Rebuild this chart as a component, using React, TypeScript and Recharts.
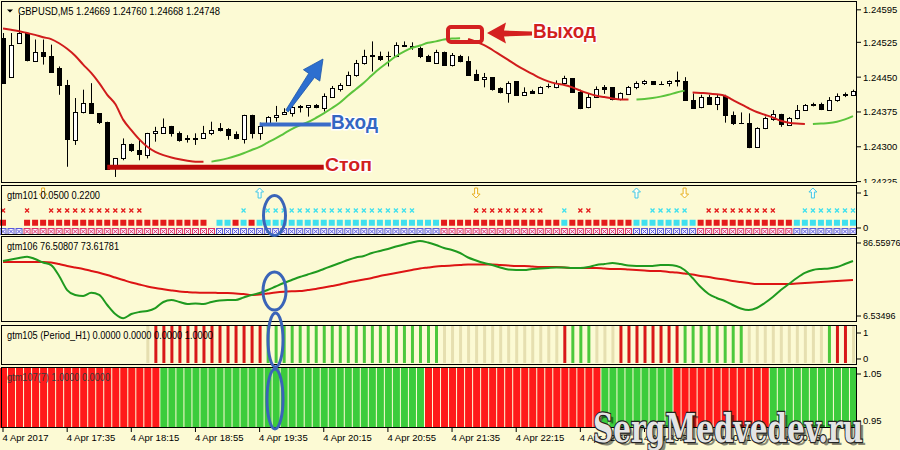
import React from "react";
import { ComposedChart, Bar, Line, XAxis, YAxis, ReferenceLine, Cell } from "recharts";

const N = 107;
const BG = "#fcfad4";
const FONT = "'Liberation Sans', Arial, sans-serif";

// GBPUSD M5, bars from 4 Apr 2017 16:55
const opens = [
  1.24534, 1.24451, 1.24523, 1.24545, 1.24484, 1.24505, 1.24496, 1.24469, 1.24433, 1.24315,
  1.24374, 1.24394, 1.24372, 1.24353, 1.24261, 1.24275, 1.24307, 1.24293, 1.24282, 1.24329,
  1.24329, 1.24345, 1.24329, 1.24318, 1.24316, 1.2432, 1.24329, 1.2434, 1.24338, 1.24328,
  1.24316, 1.24369, 1.24329, 1.24352, 1.24364, 1.24371, 1.24372, 1.24385, 1.24385, 1.2439,
  1.24383, 1.24408, 1.24424, 1.24433, 1.24455, 1.2448, 1.24498, 1.24496, 1.24496, 1.24495,
  1.2452, 1.24518, 1.24513, 1.24495, 1.2448, 1.24505, 1.24477, 1.24496, 1.24485, 1.24457,
  1.24446, 1.2445, 1.24426, 1.24415, 1.24441, 1.24412, 1.24421, 1.24415, 1.2443, 1.24428,
  1.24438, 1.24448, 1.24419, 1.24385, 1.24407, 1.24428, 1.24428, 1.24402, 1.24414, 1.24428,
  1.24438, 1.24441, 1.24435, 1.24437, 1.24441, 1.24441, 1.24401, 1.24385, 1.24408, 1.24392,
  1.2441, 1.24369, 1.24352, 1.24351, 1.243, 1.2434, 1.24359, 1.24371, 1.24347, 1.24361,
  1.24379, 1.2439, 1.24392, 1.24379, 1.244, 1.24412, 1.24412,
];
const highs = [
  1.24545, 1.24545, 1.24585, 1.24545, 1.24531, 1.24531, 1.2452, 1.24473, 1.24444, 1.24405,
  1.24423, 1.24437, 1.24372, 1.24354, 1.24275, 1.24318, 1.24307, 1.24315, 1.2433, 1.24343,
  1.24361, 1.24345, 1.24333, 1.24325, 1.24329, 1.24345, 1.24354, 1.24351, 1.2434, 1.24333,
  1.24369, 1.24369, 1.24352, 1.24366, 1.24388, 1.24383, 1.24388, 1.2439, 1.2439, 1.24392,
  1.24415, 1.24431, 1.24437, 1.24462, 1.24487, 1.24509, 1.24527, 1.24505, 1.24505, 1.24525,
  1.24527, 1.24525, 1.24516, 1.24498, 1.24509, 1.24505, 1.24502, 1.24498, 1.24495, 1.24466,
  1.24459, 1.2445, 1.24428, 1.24441, 1.24441, 1.24428, 1.24423, 1.2443, 1.24436, 1.24443,
  1.24453, 1.24448, 1.24423, 1.24415, 1.2443, 1.24433, 1.24428, 1.24417, 1.24431, 1.24441,
  1.24444, 1.24441, 1.24441, 1.24443, 1.24462, 1.2445, 1.24415, 1.24412, 1.24412, 1.24412,
  1.24412, 1.24376, 1.24374, 1.24372, 1.24342, 1.24365, 1.24379, 1.24371, 1.24364, 1.2439,
  1.24392, 1.24395, 1.24395, 1.24407, 1.24415, 1.24417, 1.24423,
];
const lows = [
  1.24437, 1.24451, 1.24523, 1.24484, 1.24484, 1.24477, 1.24462, 1.24412, 1.24257, 1.24304,
  1.24372, 1.24372, 1.24349, 1.24253, 1.24235, 1.24271, 1.24289, 1.24271, 1.24275, 1.24311,
  1.24329, 1.24322, 1.24311, 1.24309, 1.24304, 1.24318, 1.24325, 1.24333, 1.24315, 1.24316,
  1.24307, 1.24318, 1.24315, 1.24349, 1.24354, 1.24369, 1.24365, 1.24374, 1.24365, 1.24383,
  1.24376, 1.24407, 1.24419, 1.24431, 1.24451, 1.24477, 1.24462, 1.24485, 1.24473, 1.24493,
  1.24516, 1.24509, 1.24491, 1.24484, 1.2448, 1.24474, 1.24473, 1.24482, 1.24455, 1.24443,
  1.24428, 1.24421, 1.24415, 1.24395, 1.2441, 1.2441, 1.24414, 1.24414, 1.24426, 1.24426,
  1.24437, 1.24417, 1.24381, 1.24383, 1.24405, 1.24414, 1.244, 1.244, 1.24412, 1.24424,
  1.24433, 1.24433, 1.24433, 1.2443, 1.2443, 1.244, 1.24383, 1.24383, 1.2439, 1.24379,
  1.24352, 1.24347, 1.24349, 1.24297, 1.243, 1.24338, 1.24356, 1.24343, 1.24345, 1.24359,
  1.24378, 1.24387, 1.24379, 1.24378, 1.24397, 1.24407, 1.2441,
];
const closes = [
  1.24437, 1.2452, 1.24545, 1.24487, 1.24505, 1.24496, 1.24462, 1.24433, 1.24316, 1.24374,
  1.24394, 1.24372, 1.24354, 1.24253, 1.24275, 1.24307, 1.24293, 1.24284, 1.24329, 1.24333,
  1.24343, 1.2433, 1.24315, 1.24316, 1.2432, 1.24329, 1.24336, 1.24336, 1.24325, 1.24318,
  1.24369, 1.2433, 1.24345, 1.24364, 1.24369, 1.24374, 1.24385, 1.24387, 1.2439, 1.24385,
  1.2441, 1.24426, 1.24433, 1.24455, 1.2448, 1.24496, 1.24495, 1.24489, 1.24495, 1.2452,
  1.24518, 1.24516, 1.24495, 1.24484, 1.24505, 1.24477, 1.24498, 1.24484, 1.24455, 1.24444,
  1.24451, 1.24424, 1.24417, 1.24438, 1.24412, 1.24419, 1.24415, 1.24428, 1.24431, 1.24438,
  1.24448, 1.24419, 1.24383, 1.24408, 1.24424, 1.24424, 1.24402, 1.24415, 1.24428, 1.24438,
  1.24441, 1.24436, 1.24436, 1.24441, 1.24443, 1.244, 1.24383, 1.24408, 1.24392, 1.24407,
  1.24369, 1.24352, 1.24351, 1.243, 1.2434, 1.24361, 1.24371, 1.24349, 1.24361, 1.24379,
  1.2439, 1.24392, 1.24381, 1.24401, 1.2441, 1.24414, 1.24421,
];

// coloured moving average (red = falling, green = rising)
const maValues = [
  1.24555, 1.24552, 1.24549, 1.24545, 1.24541, 1.24536, 1.24532, 1.24523, 1.24511, 1.24496,
  1.24477, 1.24459, 1.24437, 1.24412, 1.24392, 1.24358, 1.24336, 1.24316, 1.243, 1.24289,
  1.24282, 1.24277, 1.24273, 1.2427, 1.24268, 1.24268, 1.24268, 1.24271, 1.24275, 1.2428,
  1.24286, 1.24293, 1.243, 1.24309, 1.24318, 1.24328, 1.24338, 1.24346, 1.24353, 1.24362,
  1.24372, 1.24383, 1.24395, 1.2441, 1.24424, 1.24438, 1.24454, 1.24469, 1.24482, 1.24495,
  1.24505, 1.24513, 1.24518, 1.24524, 1.24527, 1.24531, 1.24533, 1.24534, 1.24532, 1.24526,
  1.24519, 1.24509, 1.24498, 1.24487, 1.24476, 1.24466, 1.24457, 1.24448, 1.24441, 1.24436,
  1.24433, 1.24428, 1.24421, 1.24415, 1.2441, 1.24407, 1.24404, 1.24402, 1.24402, 1.24402,
  1.24403, 1.24405, 1.24408, 1.24412, 1.24417, 1.24421, 1.24417, 1.24416, 1.24415, 1.24413,
  1.2441, 1.24401, 1.24392, 1.24383, 1.24375, 1.24369, 1.24363, 1.24356, 1.24352, 1.2435,
  1.24349, 1.24349, 1.2435, 1.24351, 1.24354, 1.24359, 1.24366,
];
type Run = [number, number, string];
const maTrendRuns: Run[] = [[0, 25, "d"], [26, 57, "u"], [58, 78, "d"], [79, 85, "u"], [86, 100, "d"], [101, 106, "u"]];

const priceTicks = [1.24225, 1.243, 1.24375, 1.2445, 1.24525, 1.24595];
const timeTicks = [0, 8, 16, 24, 32, 40, 48, 56, 64, 72, 80, 88, 96];
const timeLabels = [
  "4 Apr 2017", "4 Apr 17:35", "4 Apr 18:15", "4 Apr 18:55", "4 Apr 19:35", "4 Apr 20:15", "4 Apr 20:55",
  "4 Apr 21:35", "4 Apr 22:15", "4 Apr 22:55", "4 Apr 23:35", "5 Apr 00:15", "5 Apr 00:55",
];
const stopPrice = 1.24256;
const entryPrice = 1.24348;

// gtm101 rows: r = red, c = cyan, b = blue
const crossRuns: Run[] = [[0, 0, "r"], [3, 3, "r"], [6, 17, "r"], [30, 30, "c"], [33, 51, "c"], [59, 67, "r"], [70, 70, "c"], [72, 73, "r"], [81, 85, "c"], [88, 96, "r"], [100, 106, "c"]];
const squareRuns: Run[] = [[0, 0, "r"], [3, 25, "r"], [27, 28, "c"], [29, 29, "r"], [30, 30, "c"], [31, 31, "r"], [32, 54, "c"], [55, 69, "r"], [70, 70, "c"], [71, 78, "r"], [79, 86, "c"], [87, 98, "r"], [99, 106, "c"]];
const boxRuns: Run[] = [[0, 2, "b"], [3, 26, "r"], [27, 54, "b"], [55, 78, "r"], [79, 86, "b"], [87, 98, "r"], [99, 106, "b"]];
const upArrows = [32, 79, 101];
const downArrows = [5, 59, 85];

// gtm106 two lines
const gtm106Green = [
  66.8, 68.5, 70.1, 71.6, 69.0, 65.2, 62.4, 50.4, 35.0, 29.6,
  28.5, 32.1, 29.6, 18.6, 8.7, 4.0, 8.7, 10.9, 12.0, 15.3,
  21.9, 24.1, 21.9, 19.7, 20.2, 19.7, 21.9, 23.5, 24.1, 24.1,
  26.8, 29.6, 31.7, 35.0, 38.9, 42.7, 46.0, 49.3, 52.0, 54.8,
  58.1, 61.4, 64.6, 67.9, 70.7, 72.3, 75.6, 77.8, 80.0, 82.7,
  84.9, 87.1, 88.8, 87.1, 84.4, 81.1, 78.9, 75.6, 70.7, 67.4,
  64.6, 62.4, 59.7, 57.5, 57.0, 57.0, 58.1, 58.6, 59.2, 59.7,
  59.7, 59.2, 59.2, 60.2, 62.4, 63.5, 64.6, 63.5, 61.9, 61.4,
  61.4, 61.4, 62.4, 62.4, 61.4, 57.0, 48.2, 38.3, 30.7, 26.3,
  23.0, 18.6, 14.8, 13.1, 15.3, 20.8, 27.4, 35.0, 41.6, 48.2,
  53.7, 57.0, 58.1, 58.6, 60.2, 63.5, 66.8,
];
const gtm106Red = [
  65.7, 65.7, 65.7, 65.7, 65.7, 65.7, 65.2, 63.5, 61.4, 59.7,
  58.1, 55.9, 54.0, 51.5, 48.7, 46.0, 43.3, 41.1, 38.9, 37.2,
  35.8, 34.5, 33.4, 32.8, 32.3, 32.1, 32.1, 31.7, 31.7, 31.2,
  30.7, 29.6, 30.1, 31.2, 32.3, 33.1, 33.6, 33.9, 35.0, 36.1,
  37.8, 39.4, 41.1, 43.3, 44.9, 46.6, 48.2, 50.4, 52.0, 53.7,
  55.3, 57.0, 58.6, 59.7, 60.8, 61.4, 61.9, 62.4, 63.0, 63.0,
  63.0, 63.0, 62.4, 61.9, 61.4, 61.4, 60.8, 60.2, 60.2, 60.2,
  59.7, 59.2, 59.2, 59.2, 59.2, 58.6, 58.1, 58.1, 57.5, 57.0,
  56.4, 55.9, 55.9, 54.8, 54.2, 53.1, 52.0, 50.4, 49.3, 47.6,
  46.6, 44.9, 43.8, 42.7, 41.6, 41.6, 41.6, 41.6, 41.6, 42.2,
  42.7, 43.3, 43.8, 44.4, 44.9, 45.5, 46.0,
];

// gtm105 / gtm107 signal bars: r = red, g = green, p = pale
const gtm105Runs: Run[] = [[18, 18, "p"], [19, 32, "r"], [33, 54, "g"], [55, 69, "p"], [70, 70, "r"], [71, 73, "g"], [74, 76, "p"], [77, 84, "r"], [85, 92, "g"], [93, 102, "p"], [103, 103, "g"], [104, 105, "r"], [106, 106, "p"]];
const gtm107Runs: Run[] = [[0, 19, "r"], [20, 52, "g"], [53, 74, "r"], [75, 83, "g"], [84, 95, "r"], [96, 106, "g"]];

const expand = (runs: Run[]) => {
  const out: string[] = new Array(N).fill("");
  runs.forEach(([a, b, c]) => {
    for (let k = a; k <= b; k++) out[k] = c;
  });
  return out;
};
const maTrend = expand(maTrendRuns);
const crosses = expand(crossRuns);
const squares = expand(squareRuns);
const boxes = expand(boxRuns);
const g105 = expand(gtm105Runs);
const g107 = expand(gtm107Runs);

const data = opens.map((o, i) => ({
  i,
  o,
  h: highs[i],
  l: lows[i],
  c: closes[i],
  maDn: maTrend[i] === "d" ? maValues[i] : null,
  maUp: maTrend[i] === "u" ? maValues[i] : null,
  g106g: gtm106Green[i],
  g106r: gtm106Red[i],
  crossC: crosses[i],
  crossY: crosses[i] ? 0.5 : null,
  sqC: squares[i],
  sqY: squares[i] ? 0.15 : null,
  boxC: boxes[i],
  boxY: boxes[i] ? -0.1 : null,
  arrow: upArrows.includes(i) ? "u" : downArrows.includes(i) ? "d" : "",
  arrowY: upArrows.includes(i) || downArrows.includes(i) ? 1 : null,
  g105C: g105[i],
  g105: g105[i] ? 1 : null,
  g107C: g107[i],
  g107: g107[i] ? 1 : null,
}));

const C101: Record<string, string> = { r: "#e41b1b", c: "#3fe0ee" };
const CBOX: Record<string, string> = { b: "#5a5adc", r: "#e0306a" };
const C105: Record<string, string> = { r: "#d81818", g: "#4cc83c", p: "#e6dfb0" };
const C107: Record<string, string> = { r: "#ff1a1a", g: "#3ccc3c" };

const Candle = (p: any) => {
  const { x, y, width, height, payload } = p;
  if (x == null || y == null) return <g />;
  const top = Math.min(y, y + height);
  const len = Math.abs(height);
  const { o, h, l, c } = payload;
  const ppu = h === l ? 0 : len / (h - l);
  const yOf = (v: number) => top + (h - v) * ppu;
  const n = Math.round(x + width / 2 - 0.5);
  const cx = n + 0.5;
  const bTop = Math.round(yOf(Math.max(o, c))) + 0.5;
  const bBot = Math.round(yOf(Math.min(o, c))) + 0.5;
  return (
    <g>
      <line x1={cx} x2={cx} y1={top} y2={top + len} stroke="#000" />
      {bBot - bTop < 1 ? (
        <line x1={cx - 2.5} x2={cx + 2.5} y1={bTop} y2={bTop} stroke="#000" />
      ) : (
        <rect x={cx - 2} y={bTop} width={4} height={bBot - bTop} fill={c >= o ? "#fff" : "#000"} stroke="#000" />
      )}
    </g>
  );
};

const crossDot = (p: any) => {
  const { cx, cy, payload, index } = p;
  if (cy == null || payload.crossY == null) return <g key={index} />;
  return (
    <g key={index} stroke={C101[payload.crossC]} strokeWidth={1.3}>
      <line x1={cx - 2} y1={cy - 2} x2={cx + 2} y2={cy + 2} />
      <line x1={cx - 2} y1={cy + 2} x2={cx + 2} y2={cy - 2} />
    </g>
  );
};
const squareDot = (p: any) => {
  const { cx, cy, payload, index } = p;
  if (cy == null || payload.sqY == null) return <g key={index} />;
  return <rect key={index} x={cx - 3} y={cy - 3} width={6} height={6} fill={C101[payload.sqC]} />;
};
const boxDot = (p: any) => {
  const { cx, cy, payload, index } = p;
  if (cy == null || payload.boxY == null) return <g key={index} />;
  const col = CBOX[payload.boxC];
  return (
    <g key={index} stroke={col} strokeWidth={1}>
      <rect x={cx - 3} y={cy - 3} width={6} height={6} fill="#f6f2ff" />
      <line x1={cx - 2} y1={cy - 2} x2={cx + 2} y2={cy + 2} />
      <line x1={cx - 2} y1={cy + 2} x2={cx + 2} y2={cy - 2} />
    </g>
  );
};
const arrowDot = (p: any) => {
  const { cx, cy, payload, index } = p;
  if (cy == null || payload.arrowY == null) return <g key={index} />;
  const s = payload.arrow === "u" ? 1 : -1;
  const pts = [[0, -5], [4, -1], [1.5, -1], [1.5, 5], [-1.5, 5], [-1.5, -1], [-4, -1]]
    .map(([dx, dy]) => `${cx + dx},${cy + dy * s}`)
    .join(" ");
  return <polygon key={index} points={pts} fill="#fffef0" stroke={s > 0 ? "#40c8e8" : "#e8b020"} strokeWidth={1} />;
};

const TimeTick = (p: any) => {
  const idx = timeTicks.indexOf(p.payload.value);
  return (
    <text x={p.x - 0.5} y={p.y} dy="0.71em" textAnchor="start" fontSize={9.5} fontFamily={FONT} fill="#000">
      {timeLabels[idx]}
    </text>
  );
};

const axisTick = { fontSize: 9.5, fill: "#000", fontFamily: FONT };
const smallTick = { fontSize: 9, fill: "#000", fontFamily: FONT };
const margin = { top: 0, right: 0, bottom: 0, left: -1 };

const Panel = ({ top, height, children }: { top: number; height: number; children: React.ReactNode }) => (
  <div style={{ position: "absolute", left: 0, top }}>
    <ComposedChart width={900} height={height} data={data} margin={margin} barGap={0} barCategoryGap={0}>
      {children}
    </ComposedChart>
  </div>
);

const outlined = { paintOrder: "stroke" as const, stroke: "#fff", strokeWidth: 3, strokeLinejoin: "round" as const };

export default function App() {
  return (
    <div style={{ position: "absolute", left: 0, top: 0, width: 900, height: 450, background: BG, overflow: "hidden" }}>
      {/* main price panel */}
      <Panel top={1} height={182}>
        <XAxis dataKey="i" hide />
        <YAxis yAxisId="p" orientation="right" width={43} domain={[1.24222, 1.24614]} allowDataOverflow ticks={priceTicks} interval={0}
          tickFormatter={(v: number) => v.toFixed(5)} tick={axisTick} tickSize={4} tickLine={{ stroke: "#000" }} axisLine={false} />
        <Bar yAxisId="p" dataKey={(d: any) => [d.l, d.h]} barSize={7} shape={(p: any) => <Candle {...p} />} isAnimationActive={false} />
        <Line yAxisId="p" dataKey="maDn" type="monotone" stroke="#d01c1c" strokeWidth={2} dot={false} activeDot={false} connectNulls={false} isAnimationActive={false} />
        <Line yAxisId="p" dataKey="maUp" type="monotone" stroke="#5cc43c" strokeWidth={2} dot={false} activeDot={false} connectNulls={false} isAnimationActive={false} />
        <ReferenceLine yAxisId="p" segment={[{ x: 13, y: stopPrice }, { x: 40, y: stopPrice }]} stroke="#bb0a0a" strokeWidth={5} />
        <ReferenceLine yAxisId="p" segment={[{ x: 32, y: entryPrice }, { x: 41, y: entryPrice }]} stroke="#3a6cc8" strokeWidth={4} />
      </Panel>

      {/* gtm101 */}
      <Panel top={185} height={50}>
        <XAxis dataKey="i" hide />
        <YAxis yAxisId="s" orientation="right" width={43} domain={[-0.2, 1.2286]} allowDataOverflow ticks={[0, 1]} interval={0}
          tick={axisTick} tickSize={4} tickLine={{ stroke: "#000" }} axisLine={false} />
        <Bar yAxisId="s" dataKey="none" isAnimationActive={false} />
        <Line yAxisId="s" dataKey="boxY" stroke="none" dot={boxDot} activeDot={false} isAnimationActive={false} />
        <Line yAxisId="s" dataKey="sqY" stroke="none" dot={squareDot} activeDot={false} isAnimationActive={false} />
        <Line yAxisId="s" dataKey="crossY" stroke="none" dot={crossDot} activeDot={false} isAnimationActive={false} />
        <Line yAxisId="s" dataKey="arrowY" stroke="none" dot={arrowDot} activeDot={false} isAnimationActive={false} />
      </Panel>

      {/* gtm106 */}
      <Panel top={237} height={85}>
        <XAxis dataKey="i" hide />
        <YAxis yAxisId="s" orientation="right" width={43} domain={[-0.04, 93.14]} allowDataOverflow ticks={[6.53496, 86.55976]} interval={0}
          tickFormatter={(v: number) => v.toFixed(5)} tick={smallTick} tickSize={4} tickLine={{ stroke: "#000" }} axisLine={false} />
        <Bar yAxisId="s" dataKey="none" isAnimationActive={false} />
        <Line yAxisId="s" dataKey="g106r" type="monotone" stroke="#dd1414" strokeWidth={2} dot={false} activeDot={false} isAnimationActive={false} />
        <Line yAxisId="s" dataKey="g106g" type="monotone" stroke="#1f9a1f" strokeWidth={2} dot={false} activeDot={false} isAnimationActive={false} />
      </Panel>

      {/* gtm105 */}
      <Panel top={325} height={40}>
        <XAxis dataKey="i" hide />
        <YAxis yAxisId="s" orientation="right" width={43} domain={[-0.2308, 1.3077]} allowDataOverflow ticks={[0, 1]} interval={0}
          tick={axisTick} tickSize={4} tickLine={{ stroke: "#000" }} axisLine={false} />
        <YAxis yAxisId="b" hide domain={[-0.054, 1.027]} allowDataOverflow />
        <Bar yAxisId="b" dataKey="g105" barSize={3} isAnimationActive={false}>
          {data.map((d) => <Cell key={d.i} fill={C105[d.g105C] || "none"} />)}
        </Bar>
      </Panel>

      {/* gtm107 + time axis */}
      <div style={{ position: "absolute", left: 0, top: 368 }}>
        <ComposedChart width={900} height={82} data={data} margin={margin} barGap={0} barCategoryGap={0}>
          <XAxis dataKey="i" height={22} ticks={timeTicks} interval={0} tick={<TimeTick />} tickSize={4} tickLine={{ stroke: "#000" }} axisLine={false} />
          <YAxis yAxisId="s" orientation="right" width={43} domain={[0.9351, 1.0628]} allowDataOverflow ticks={[0.95, 1.05]} interval={0}
            tickFormatter={(v: number) => v.toFixed(2)} tick={axisTick} tickSize={4} tickLine={{ stroke: "#000" }} axisLine={false} />
          <YAxis yAxisId="b" hide domain={[0, 1]} allowDataOverflow />
          <Bar yAxisId="b" dataKey="g107" barSize={7} isAnimationActive={false}>
            {data.map((d) => <Cell key={d.i} fill={C107[d.g107C] || "none"} />)}
          </Bar>
        </ComposedChart>
      </div>

      {/* frames, titles and hand-drawn notes */}
      <svg width={900} height={450} style={{ position: "absolute", left: 0, top: 0, pointerEvents: "none" }}>
        <g fill="none" stroke="#000" strokeWidth={1}>
          <rect x={1.5} y={1.5} width={855} height={181} />
          <rect x={1.5} y={185.5} width={855} height={49} />
          <rect x={1.5} y={236.5} width={855} height={85} />
          <rect x={1.5} y={325.5} width={855} height={39} />
          <rect x={1.5} y={367.5} width={855} height={60} />
        </g>
        <polygon points="7,9.5 13,9.5 10,12.5" fill="#000" />
        <g fontFamily={FONT} fontSize={10.5} fill="#000">
          <text x={18} y={14.5} textLength={202} lengthAdjust="spacingAndGlyphs">GBPUSD,M5  1.24669 1.24760 1.24668 1.24748</text>
          <text x={7} y={199} textLength={93} lengthAdjust="spacingAndGlyphs">gtm101 0.0500 0.2200</text>
          <text x={7} y={250} textLength={112} lengthAdjust="spacingAndGlyphs">gtm106 76.50807 73.61781</text>
          <text x={7} y={339} textLength={206} lengthAdjust="spacingAndGlyphs">gtm105 (Period_H1) 0.0000 0.0000 0.0000 1.0000</text>
          <text x={7} y={380.5} textLength={103} lengthAdjust="spacingAndGlyphs" fill="#3a3a3a">gtm107(7) 1.0000 0.0000</text>
        </g>

        {/* entry arrow */}
        <polygon points="285.8,110.1 308.7,73.4 303.4,69.7 323,59 319.8,81.1 314.5,77.4 288.2,111.9" fill="#2d6fcf" stroke="#1d55a8" strokeWidth={0.8} />
        {/* exit marker */}
        <rect x={448} y={27} width={34} height={15} rx={3} fill="none" stroke="#d42020" strokeWidth={4} />
        <polygon points="487,33 506,22.5 504,30.5 532,31.5 532,35.5 504,36.5 506,43.5" fill="#d42020" />

        <g fontFamily={FONT} fontWeight="bold">
          <text x={533} y={38} fontSize={21} textLength={63} lengthAdjust="spacingAndGlyphs" fill="#d21f1f" style={outlined}>Выход</text>
          <text x={331} y={128.5} fontSize={21} textLength={47} lengthAdjust="spacingAndGlyphs" fill="#3466c2" style={outlined}>Вход</text>
          <text x={325} y={171} fontSize={18} textLength={47} lengthAdjust="spacingAndGlyphs" fill="#d21f1f" style={outlined}>Стоп</text>
        </g>

        <g fill="none" stroke="#3a64b8" strokeWidth={3}>
          <ellipse cx={274.5} cy={215.5} rx={11} ry={20} />
          <ellipse cx={274.5} cy={291} rx={11.5} ry={19} />
          <ellipse cx={275.5} cy={340} rx={7.5} ry={27} />
          <ellipse cx={275} cy={399} rx={8} ry={30} />
        </g>

        <g fontFamily="'DejaVu Serif', serif" fontWeight="bold" fontSize={40}>
          <text x={596} y={445} textLength={270} lengthAdjust="spacingAndGlyphs" fill="#000" opacity={0.45}>SergMedvedev.ru</text>
          <text x={593} y={442} textLength={270} lengthAdjust="spacingAndGlyphs" fill="#e4e4e4" stroke="#222" strokeWidth={2.5} style={{ paintOrder: "stroke" }}>SergMedvedev.ru</text>
        </g>
      </svg>
    </div>
  );
}
